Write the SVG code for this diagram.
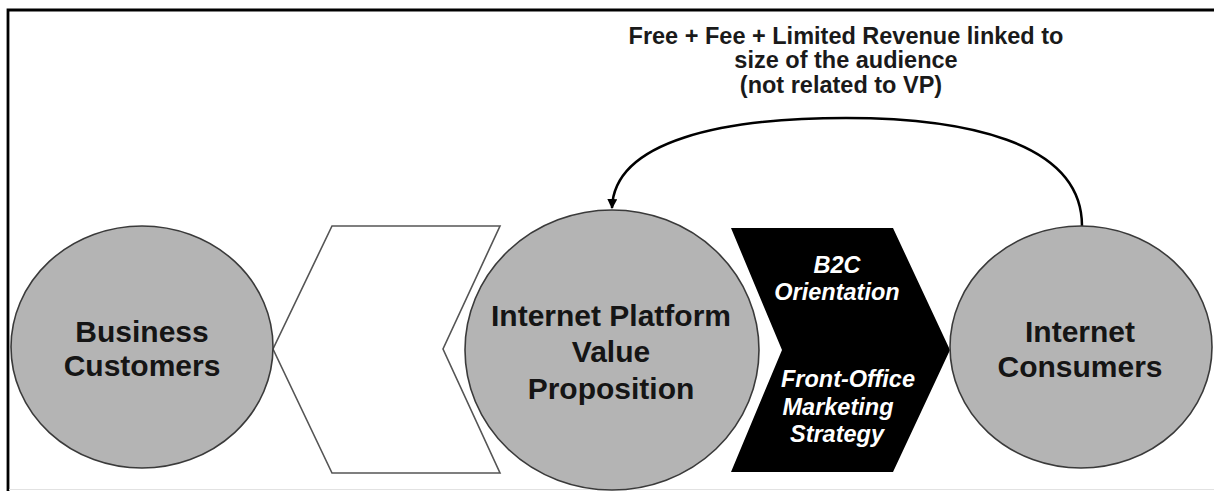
<svg xmlns="http://www.w3.org/2000/svg" width="1214" height="491" viewBox="0 0 1214 491">
<style>
.circle{fill:#b4b4b4;stroke:#3a3a3a;stroke-width:1.6}
.lbl{font-family:"Liberation Sans",Arial,sans-serif;font-weight:bold;font-size:30px;fill:#151515;text-anchor:middle}
.wlbl{font-family:"Liberation Sans",Arial,sans-serif;font-weight:bold;font-style:italic;font-size:23.5px;fill:#ffffff;text-anchor:middle}
.top{font-family:"Liberation Sans",Arial,sans-serif;font-weight:bold;font-size:23.5px;fill:#1a1a1a;text-anchor:middle}
.conn{fill:none;stroke:#000;stroke-width:2.5}
</style>
<defs>
<marker id="arr" viewBox="0 0 10 10" refX="9" refY="5" markerWidth="4" markerHeight="4" orient="auto" markerUnits="strokeWidth">
<path d="M0,0 L10,5 L0,10 z" fill="#000"/>
</marker>
</defs>
<rect x="0" y="0" width="1214" height="491" fill="#fff"/>
<path d="M8,491 V10 H1214" fill="none" stroke="#000" stroke-width="2.8"/>
<line x1="9" y1="489.5" x2="1214" y2="489.5" stroke="#e2e2e2" stroke-width="1"/>

<g id="revenue-label">
<text class="top" x="846" y="44">Free + Fee + Limited Revenue linked to</text>
<text class="top" x="846" y="68">size of the audience</text>
<text class="top" x="841" y="93">(not related to VP)</text>
</g>

<g id="connectors">
<path class="conn" d="M1082,226 C1082,140 960,118 846,118 C725,118 614,140 612,208" marker-end="url(#arr)"/>
</g>

<g id="white-arrow">
<polygon points="332,226 500,226 443,349 500,473 332,473 273,349" fill="#fff" stroke="#555" stroke-width="1.6"/>
</g>

<g id="business-customers">
<ellipse class="circle" cx="142" cy="347" rx="131" ry="121"/>
<text class="lbl" x="142" y="342">Business</text>
<text class="lbl" x="142" y="376">Customers</text>
</g>

<g id="value-proposition">
<ellipse class="circle" cx="612" cy="350" rx="147" ry="140"/>
<text class="lbl" x="611" y="326">Internet Platform</text>
<text class="lbl" x="611" y="362">Value</text>
<text class="lbl" x="611" y="399">Proposition</text>
</g>

<g id="b2c-chevron">
<polygon points="731,228 893,228 950,350 893,472 731,472 782,350" fill="#000"/>
<text class="wlbl" x="837" y="273">B2C</text>
<text class="wlbl" x="837" y="300">Orientation</text>
<text class="wlbl" x="848" y="387">Front-Office</text>
<text class="wlbl" x="838" y="415">Marketing</text>
<text class="wlbl" x="837" y="442">Strategy</text>
</g>

<g id="internet-consumers">
<ellipse class="circle" cx="1081" cy="347" rx="131" ry="121"/>
<text class="lbl" x="1080" y="342">Internet</text>
<text class="lbl" x="1080" y="377">Consumers</text>
</g>
</svg>
